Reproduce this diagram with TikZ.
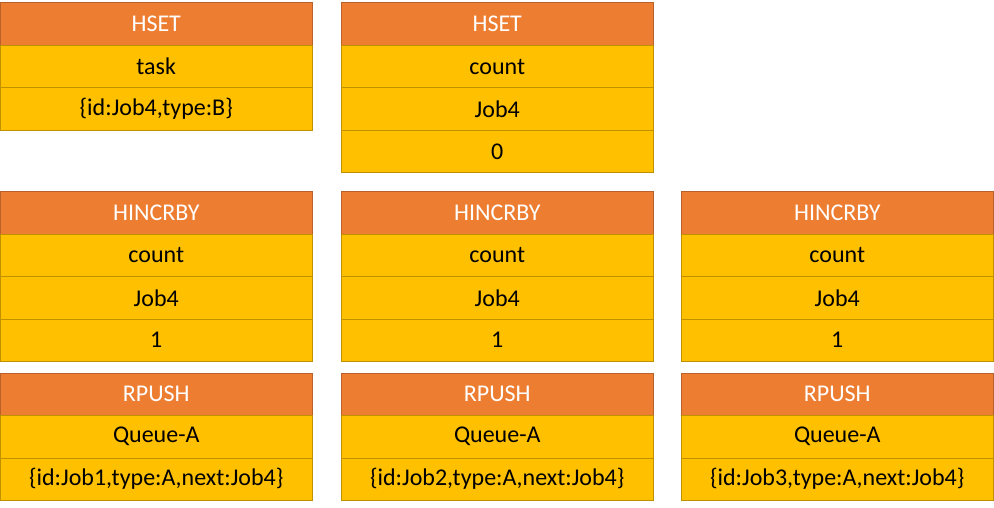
\documentclass[tikz,border=0pt]{standalone}
\usepackage{fontspec}
\setmainfont{Carlito}
\definecolor{hdrfill}{HTML}{ED7D31}
\definecolor{hdrline}{HTML}{B8612A}
\definecolor{cellfill}{HTML}{FFC000}
\definecolor{cellline}{HTML}{BF9000}
\begin{document}
\begin{tikzpicture}[x=1pt,y=1pt,
  box/.style={anchor=north west, minimum width=311.5pt, minimum height=42.5pt,
    inner sep=0pt, outer sep=0pt, line width=1pt, font=\fontsize{24}{28}\selectfont},
  hdr/.style={box, fill=hdrfill, draw=hdrline, text=white},
  cell/.style={box, fill=cellfill, draw=cellline, text=black}]
\useasboundingbox (0,0) rectangle (994,-508);

% HSET task
\node[hdr]  (h1)  at (0.5,-3) {HSET};
\node[cell] (h1a) at (h1.south west) {task};
\node[cell] (h1b) at (h1a.south west) {\{id:Job4,type:B\}};

% HSET count
\node[hdr]  (h2)  at (341.5,-3) {HSET};
\node[cell] (h2a) at (h2.south west) {count};
\node[cell] (h2b) at (h2a.south west) {Job4};
\node[cell] (h2c) at (h2b.south west) {0};

% HINCRBY blocks
\node[hdr]  (i1)  at (0.5,-191.5) {HINCRBY};
\node[cell] (i1a) at (i1.south west) {count};
\node[cell] (i1b) at (i1a.south west) {Job4};
\node[cell] (i1c) at (i1b.south west) {1};

\node[hdr]  (i2)  at (341.5,-191.5) {HINCRBY};
\node[cell] (i2a) at (i2.south west) {count};
\node[cell] (i2b) at (i2a.south west) {Job4};
\node[cell] (i2c) at (i2b.south west) {1};

\node[hdr]  (i3)  at (681.5,-191.5) {HINCRBY};
\node[cell] (i3a) at (i3.south west) {count};
\node[cell] (i3b) at (i3a.south west) {Job4};
\node[cell] (i3c) at (i3b.south west) {1};

% RPUSH blocks
\node[hdr]  (r1)  at (0.5,-373) {RPUSH};
\node[cell] (r1a) at (r1.south west) {Queue-A};
\node[cell] (r1b) at (r1a.south west) {\{id:Job1,type:A,next:Job4\}};

\node[hdr]  (r2)  at (341.5,-373) {RPUSH};
\node[cell] (r2a) at (r2.south west) {Queue-A};
\node[cell] (r2b) at (r2a.south west) {\{id:Job2,type:A,next:Job4\}};

\node[hdr]  (r3)  at (681.5,-373) {RPUSH};
\node[cell] (r3a) at (r3.south west) {Queue-A};
\node[cell] (r3b) at (r3a.south west) {\{id:Job3,type:A,next:Job4\}};
\end{tikzpicture}
\end{document}
